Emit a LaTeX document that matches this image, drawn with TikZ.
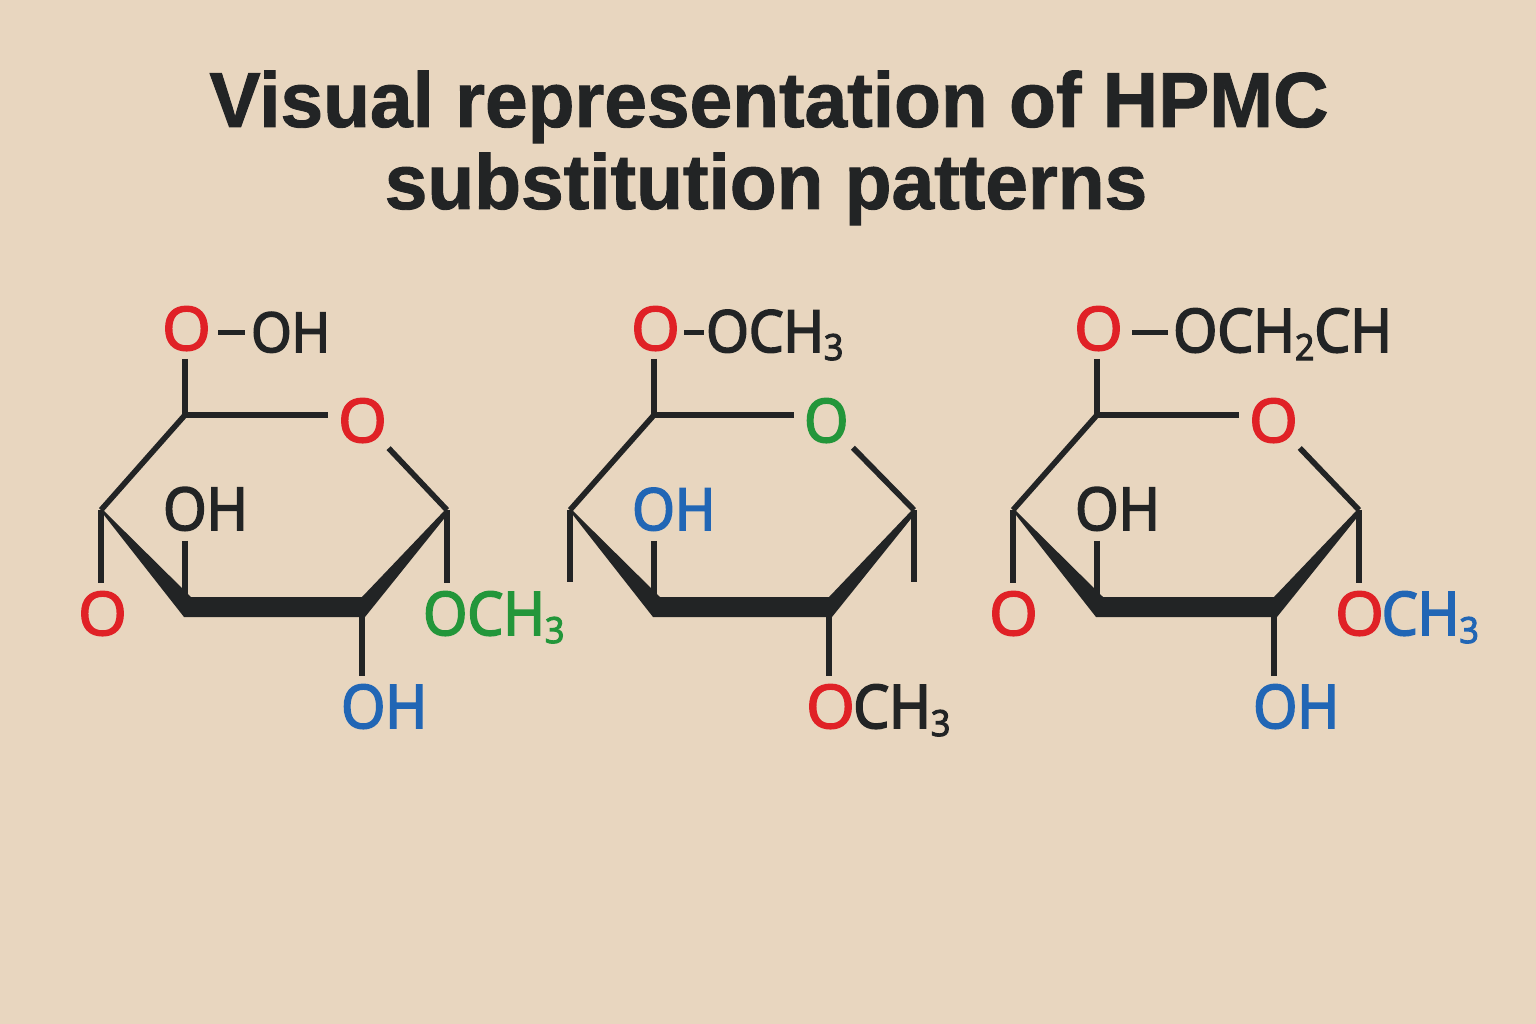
\documentclass[tikz,border=0pt]{standalone}
\usepackage{fontspec}
\usetikzlibrary{calc}
\newfontfamily\labfont[RawFeature={embolden=3.2},FakeStretch=0.945]{Open Sans}
\newfontfamily\ofont[RawFeature={embolden=3.2},FakeStretch=1.04]{Open Sans}
\newfontfamily\titlefont[RawFeature={embolden=1.2},FakeStretch=0.983]{Liberation Sans Bold}
\definecolor{bg}{HTML}{E8D6BF}
\definecolor{ink}{HTML}{222425}
\definecolor{red1}{HTML}{E02126}
\definecolor{green1}{HTML}{23963A}
\definecolor{blue1}{HTML}{2166B5}
\tikzset{
  lab/.style={font=\labfont\fontsize{60}{60}\selectfont, inner sep=0pt, anchor=base west, text=ink},
  labsm/.style={lab, font=\labfont\fontsize{55}{55}\selectfont},
  bond/.style={draw=ink, line width=5.6pt, line cap=butt, line join=miter},
  wedge/.style={fill=ink, draw=none},
  ttl/.style={font=\titlefont\fontsize{78}{82}\selectfont, text=ink, inner sep=0pt, anchor=base}
}
\newcommand{\lowsub}[1]{\raisebox{-8pt}{\fontsize{36}{36}\selectfont #1}}
\newcommand{\tred}[1]{\textcolor{red1}{{\ofont #1}}}
\newcommand{\tblue}[1]{\textcolor{blue1}{#1}}
\newcommand{\tgreen}[1]{\textcolor{green1}{#1}}
% #1 prefix, #2 x offset of left part, #3 x offset of right part
\newcommand{\ringbones}[3]{%
  \coordinate (#1T) at (185+#2,415);
  \coordinate (#1L) at (101+#2,510);
  \coordinate (#1R) at (447+#3,510);
  \coordinate (#1BL) at (184+#2,607);
  \coordinate (#1BR) at (362+#3,607);
  \fill[wedge] (#1L) ++(2,0) -- (191+#2,597) -- (362+#3,597) -- (445+#3,510) -- (447+#3,515) -- (365+#3,617) -- (184+#2,617) -- (100+#2,510) -- cycle;
  \draw[bond] (#1L) -- (#1T);
}
\begin{document}
\begin{tikzpicture}[x=1pt,y=-1pt]
\useasboundingbox (0,0) rectangle (1536,1024);
\fill[bg] (0,0) rectangle (1536,1024);

\node[ttl] (title1) at (769,127) {Visual representation of HPMC};
\node[ttl] (title2) at (766,209) {substitution patterns};

% ---------- ring 1
\ringbones{a}{0}{0}
\node[lab] (aO) at (162,350) {\tred{O}};
\node[labsm] (aOH) at (251,352) {OH};
\node[lab] (aRO) at (338,442) {\tred{O}};
\node[lab, font=\labfont\fontsize{59}{59}\selectfont] (aIn) at (163,530) {OH};
\node[lab] (aLO) at (78,635) {\tred{O}};
\node[lab] (aRl) at (423,635) {\tgreen{OCH\lowsub{3}}};
\node[lab] (aBl) at (341,728) {\tblue{OH}};
\draw[bond, shorten <=8pt] (aO.south -| aT) -- (aT);
\draw[bond] ($(aO.east)+(7,4)$) -- ($(aOH.west |- aO.east)+(-6,4)$);
\draw[bond, shorten >=10pt] (aT) -- (aRO.west |- aT);
\draw[bond, shorten <=38pt] (aRO.center) -- (aR);
\draw[bond, shorten >=8pt] (aL) -- (aL |- aLO.north);
\draw[bond, shorten <=10pt] (aT |- aIn.south) -- (aT |- aBL);
\draw[bond, shorten >=8pt] (aR) -- (aR |- aRl.north);
\draw[bond, shorten >=8pt] (aBR) -- (aBR |- aBl.north);

% ---------- ring 2
\ringbones{b}{469}{467}
\coordinate (bLe) at (570,582);
\coordinate (bRe) at (914,582);
\node[lab] (bO) at (631,350) {\tred{O}};
\node[lab, font=\labfont\fontsize{58}{58}\selectfont] (bOC) at (706,352) {OCH\lowsub{3}};
\node[lab] (bRO) at (804,442) {\tgreen{O}};
\node[lab, font=\labfont\fontsize{58}{58}\selectfont] (bIn) at (632,530) {\tblue{OH}};
\node[lab] (bBl) at (806,728) {\tred{O}\kern-1.5pt CH\lowsub{3}};
\draw[bond, shorten <=8pt] (bO.south -| bT) -- (bT);
\draw[bond] ($(bO.east)+(4,4)$) -- ($(bOC.west |- bO.east)+(-2,4)$);
\draw[bond, shorten >=10pt] (bT) -- (bRO.west |- bT);
\draw[bond, shorten <=38pt] (bRO.center) -- (bR);
\draw[bond] (bL) -- (bLe);
\draw[bond, shorten <=10pt] (bT |- bIn.south) -- (bT |- bBL);
\draw[bond] (bR) -- (bRe);
\draw[bond, shorten >=8pt] (bBR) -- (bBR |- bBl.north);

% ---------- ring 3
\ringbones{c}{912}{912}
\node[lab] (cO) at (1074,350) {\tred{O}};
\node[lab, font=\labfont\fontsize{60}{60}\selectfont] (cOC) at (1173,352) {OCH\lowsub{2}CH};
\node[lab] (cRO) at (1249,442) {\tred{O}};
\node[lab, font=\labfont\fontsize{59}{59}\selectfont] (cIn) at (1075,530) {OH};
\node[lab] (cLO) at (989,635) {\tred{O}};
\node[lab] (cRl) at (1335,635) {\tred{O}\kern-2pt\tblue{CH\lowsub{3}}};
\node[lab] (cBl) at (1253,728) {\tblue{OH}};
\draw[bond, shorten <=8pt] (cO.south -| cT) -- (cT);
\draw[bond] ($(cO.east)+(9,4)$) -- ($(cOC.west |- cO.east)+(-5,4)$);
\draw[bond, shorten >=10pt] (cT) -- (cRO.west |- cT);
\draw[bond, shorten <=38pt] (cRO.center) -- (cR);
\draw[bond, shorten >=8pt] (cL) -- (cL |- cLO.north);
\draw[bond, shorten <=10pt] (cT |- cIn.south) -- (cT |- cBL);
\draw[bond, shorten >=8pt] (cR) -- (cR |- cRl.north);
\draw[bond, shorten >=8pt] (cBR) -- (cBR |- cBl.north);
\end{tikzpicture}
\end{document}
